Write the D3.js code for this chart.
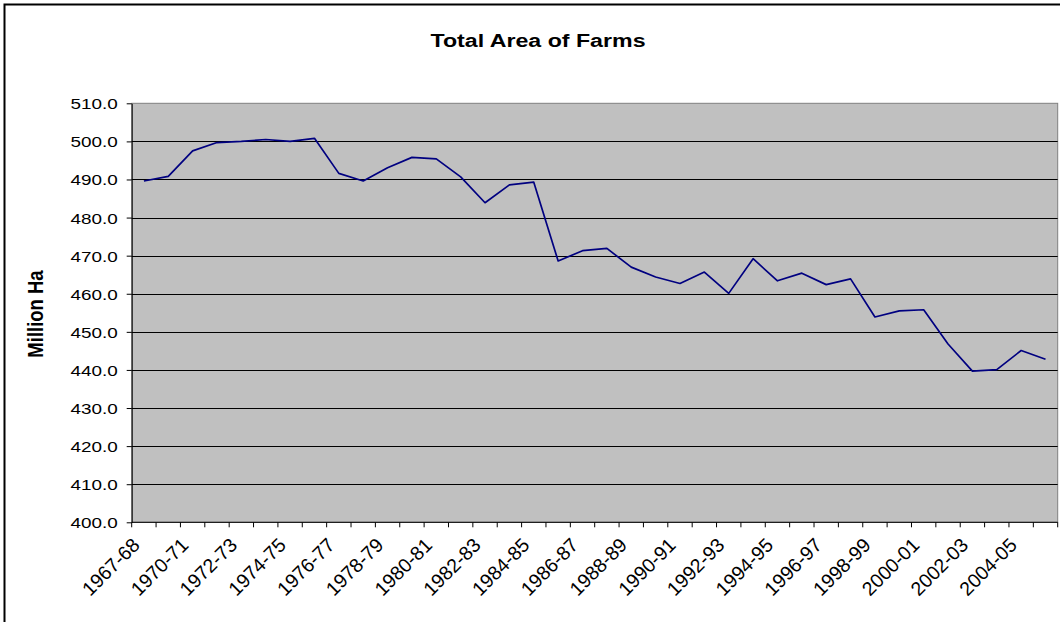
<!DOCTYPE html>
<html lang="en">
<head>
<meta charset="utf-8">
<title>Total Area of Farms</title>
<script src="https://d3js.org/d3.v7.min.js"></script>
<style>
  body { margin: 0; background: #fff; }
  svg text { font-family: "Liberation Sans", Arial, sans-serif; fill: #000; }
</style>
</head>
<body>
<div id="chart"></div>
<script>
// seasons (1968-69 missing in the source series)
const seasons = ["1967-68", "1969-70", "1970-71", "1971-72", "1972-73", "1973-74", "1974-75",
  "1975-76", "1976-77", "1977-78", "1978-79", "1979-80", "1980-81", "1981-82", "1982-83",
  "1983-84", "1984-85", "1985-86", "1986-87", "1987-88", "1988-89", "1989-90", "1990-91",
  "1991-92", "1992-93", "1993-94", "1994-95", "1995-96", "1996-97", "1997-98", "1998-99",
  "1999-00", "2000-01", "2001-02", "2002-03", "2003-04", "2004-05", "2005-06"];

// total area of farms, million ha
const area = [489.6, 490.8, 497.5, 499.7, 500.0, 500.5, 500.0, 500.8, 491.6, 489.6,
  493.1, 495.8, 495.4, 490.7, 483.9, 488.6, 489.3, 468.6, 471.3, 471.9,
  467.0, 464.4, 462.7, 465.7, 460.1, 469.2, 463.4, 465.4, 462.4, 463.9,
  453.9, 455.5, 455.8, 446.8, 439.7, 440.1, 445.1, 442.8];

const yTicks = d3.range(400, 511, 10);

const W = 1060, H = 622;
const plot = {left: 131.7, right: 1057.7, top: 103.3, bottom: 522.3};
const stretch = 1.22; // text in the picture is wider than tall

const svg = d3.select("#chart").append("svg")
  .attr("width", W).attr("height", H);

// outer chart frame
svg.append("rect")
  .attr("x", 4.5).attr("y", 4.5)
  .attr("width", W + 20).attr("height", H + 20)
  .attr("fill", "#fff").attr("stroke", "#000").attr("stroke-width", 2);

const x = d3.scaleBand().domain(seasons).range([plot.left, plot.right]).padding(0);
const y = d3.scaleLinear().domain([400, 510]).range([plot.bottom, plot.top]);

// plot background
svg.append("rect")
  .attr("x", plot.left).attr("y", plot.top)
  .attr("width", plot.right - plot.left).attr("height", plot.bottom - plot.top)
  .attr("fill", "#c0c0c0").attr("stroke", "#808080").attr("stroke-width", 1);

// gridlines
svg.append("g").selectAll("line")
  .data(yTicks.filter(d => d > 400 && d < 510))
  .join("line")
    .attr("x1", plot.left).attr("x2", plot.right)
    .attr("y1", d => Math.round(y(d)) + 0.5).attr("y2", d => Math.round(y(d)) + 0.5)
    .attr("stroke", "#000").attr("stroke-width", 1);

// y axis
const yAxis = svg.append("g")
  .attr("transform", `translate(${plot.left},0)`)
  .call(d3.axisLeft(y).tickValues(yTicks).tickFormat(d3.format(".1f")).tickSize(5).tickSizeOuter(0));
yAxis.select(".domain").attr("stroke", "#000");
yAxis.selectAll(".tick line").attr("stroke", "#000");
yAxis.selectAll(".tick text")
  .attr("x", null).attr("dy", null)
  .attr("transform", `translate(-14,5.5) scale(${stretch},1)`)
  .style("font-size", "15.5px");

// x axis line + ticks at category boundaries
const xg = svg.append("g");
xg.append("line")
  .attr("x1", plot.left).attr("x2", plot.right)
  .attr("y1", plot.bottom).attr("y2", plot.bottom)
  .attr("stroke", "#000");
xg.selectAll("line.tk")
  .data(seasons.map(s => x(s)).concat([x.range()[1]]))
  .join("line").attr("class", "tk")
    .attr("x1", d => d).attr("x2", d => d)
    .attr("y1", plot.bottom).attr("y2", plot.bottom + 5)
    .attr("stroke", "#000");
xg.selectAll("text")
  .data(seasons.filter((s, i) => i % 2 === 0))
  .join("text")
    .attr("text-anchor", "end")
    .attr("transform", d => `translate(${x(d) + x.bandwidth() / 2 - 3},${plot.bottom + 24}) rotate(-45)`)
    .style("font-size", "19.5px")
    .text(d => d);

// line
svg.append("path")
  .datum(area)
  .attr("fill", "none")
  .attr("stroke", "#000080")
  .attr("stroke-width", 1.7)
  .attr("stroke-linejoin", "round")
  .attr("d", d3.line()
    .x((d, i) => x(seasons[i]) + x.bandwidth() / 2)
    .y(d => y(d)));

// title
svg.append("text")
  .attr("text-anchor", "middle")
  .attr("transform", `translate(538,47) scale(${stretch},1)`)
  .style("font-size", "19px").style("font-weight", "bold")
  .text("Total Area of Farms");

// y axis title
svg.append("text")
  .attr("text-anchor", "middle")
  .attr("transform", `translate(43,314) scale(${stretch},1) rotate(-90)`)
  .style("font-size", "18.5px").style("font-weight", "bold")
  .text("Million Ha");
</script>
</body>
</html>
